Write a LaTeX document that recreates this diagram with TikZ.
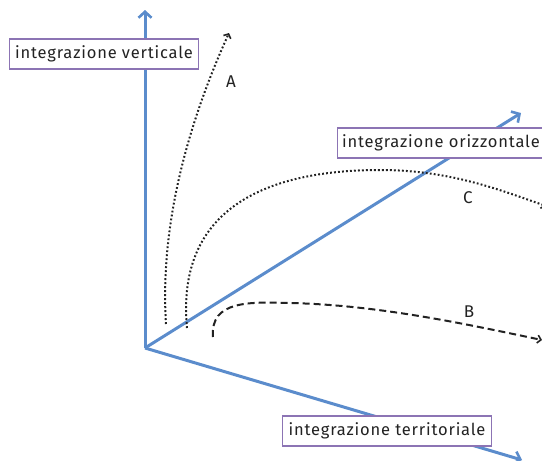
\documentclass[tikz,border=0pt]{standalone}
\usepackage{fontspec}
\setmainfont{Fira Sans}[LetterSpace=5]
\usetikzlibrary{arrows.meta}
\definecolor{axisblue}{HTML}{5B8CCC}
\definecolor{boxviolet}{HTML}{8C74B4}
\definecolor{ink}{HTML}{222222}
\begin{document}
\begin{tikzpicture}[x=1pt,y=-1pt,
  axis/.style={draw=axisblue,line width=3pt,-{Straight Barb[length=6pt,width=13pt,line width=2.6pt]}},
  axislabel/.style={draw=boxviolet,fill=white,line width=1.1pt,inner xsep=6pt,inner ysep=0pt,minimum height=30pt,font=\fontsize{16.5}{18}\selectfont,text=ink},
  path/.style={draw=ink,line width=2pt,-{Straight Barb[length=3.5pt,width=8pt,line width=1.6pt]}},
  dotline/.style={path,dash pattern=on 1.8pt off 2.2pt},
  dashline/.style={path,dash pattern=on 7pt off 4pt},
  tag/.style={font=\fontsize{17}{19}\selectfont,text=ink}]
\useasboundingbox (0,0) rectangle (542,461);
\begin{scope}
\clip (0,0) rectangle (542,461);
% axes
\coordinate (o) at (145,348);
\coordinate (v) at (145,10);
\coordinate (h) at (521,113);
\coordinate (t) at (522,460);
\draw[axis] (o) -- (v);
\draw[axis] (o) -- (h);
\draw[axis] (o) -- (t);
% trajectories
\coordinate (a0) at (166,324);
\coordinate (a1) at (229,33);
\draw[dotline] (a0) .. controls (160,230) and (185,130) .. (a1);
\coordinate (c0) at (187,328);
\coordinate (c1) at (546,206);
\draw[dotline] (c0) .. controls (175,200) and (280,170) .. (380,170)
  .. controls (450,170) and (500,190) .. (c1);
\coordinate (b0) at (213,337);
\coordinate (b1) at (542,340);
\draw[dashline] (b0) .. controls (210,300) and (250,302) .. (290,303)
  .. controls (380,305) and (470,325) .. (b1);
% axis labels
\node[axislabel] (lv) at (104,54) {integrazione verticale};
\node[axislabel,anchor=west,inner xsep=4.5pt] (lh) at (337,143) {integrazione orizzontale};
\node[axislabel] (lt) at (387,431) {integrazione territoriale};
% trajectory tags
\node[tag] (ta) at (231,82) {A};
\node[tag] (tc) at (468,198) {C};
\node[tag] (tb) at (469,312) {B};
\end{scope}
\end{tikzpicture}
\end{document}
